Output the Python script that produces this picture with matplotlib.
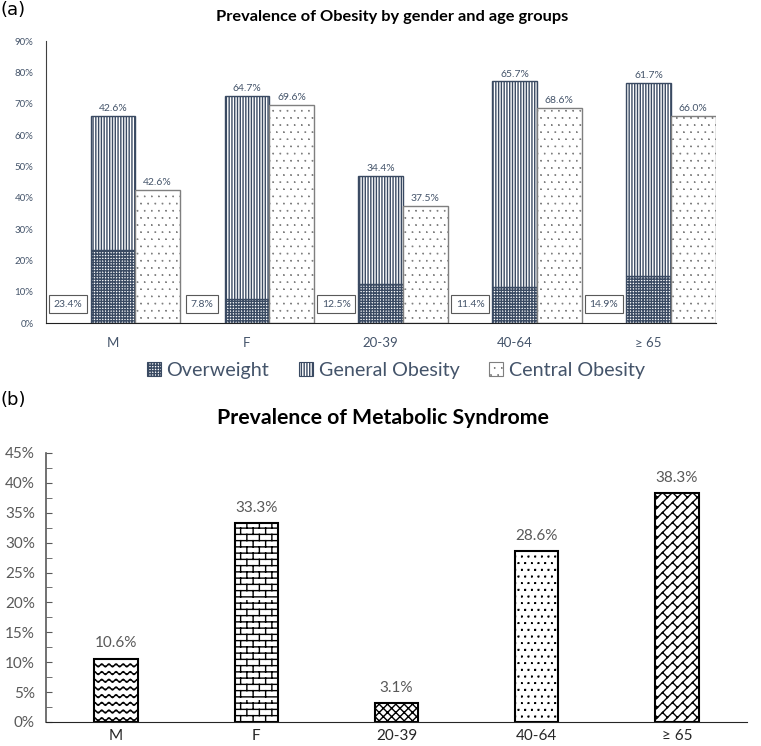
import warnings
import numpy as np
import matplotlib
matplotlib.use("Agg")
import matplotlib.pyplot as plt
import matplotlib.hatch as mhatch
from matplotlib.path import Path
from matplotlib.patches import Patch

warnings.filterwarnings("ignore")

# ---- data ----
groups = ["M", "F", "20-39", "40-64", "\u2265 65"]
overweight = [23.4, 7.8, 12.5, 11.4, 14.9]
general_obesity = [42.6, 64.7, 34.4, 65.7, 61.7]
central_obesity = [42.6, 69.6, 37.5, 68.6, 66.0]
metabolic = [10.6, 33.3, 3.1, 28.6, 38.3]


# ---- custom textures (wave, brick, diagonal brick, fine dots) ----
def wave_lines():
    rows, periods, amp = 13, 14, 0.015
    x = np.linspace(0, 1, periods * 8 + 1)
    out = []
    for k in range(rows):
        y = (k + 0.5) / rows + amp * np.sin(2 * np.pi * periods * x)
        out.append(np.column_stack([x, y]))
    return out


def brick_lines():
    rows, per_row = 16, 8
    out = []
    for k in range(rows):
        y = (k + 0.5) / rows
        out.append(np.array([[0, y], [1, y]]))
        for j in range(per_row + 1):
            xj = (j + 0.5 * (k % 2) + 0.25) / per_row
            out.append(np.array([[xj, y], [xj, y + 1 / rows]]))
    return out


def diag_brick_lines():
    n, p = 10, 5
    out = []

    def xy(u, v):
        return [(u + v) / 2, (v - u) / 2]

    for k in range(-n - 1, n + 1):
        u0 = (k + 0.5) / n
        u1 = (k + 1.5) / n
        out.append(np.array([xy(u0, -0.2), xy(u0, 2.2)]))
        for j in range(-1, 2 * p + 2):
            v = (j + 0.5 * (k % 2)) / p
            out.append(np.array([xy(u0, v), xy(u1, v)]))
    return out


def dot_squares(n, s):
    out = []
    for k in range(n):
        for j in range(n):
            xd = (j + 0.25 + 0.5 * (k % 2)) / n
            yd = (k + 0.5) / n
            out.append(np.array([[xd, yd], [xd + s, yd], [xd + s, yd + s],
                                 [xd, yd + s], [xd, yd]]))
    return out


class TextureHatch(mhatch.HatchPatternBase):
    makers = {"w": wave_lines, "b": brick_lines, "d": diag_brick_lines,
              "p": lambda: dot_squares(14, 0.001),
              "q": lambda: dot_squares(15, 0.005)}

    def __init__(self, hatch, density):
        self.lines = []
        for ch, fn in self.makers.items():
            if ch in hatch:
                self.lines += fn()
        self.num_vertices = sum(len(l) for l in self.lines)

    def set_vertices_and_codes(self, vertices, codes):
        i = 0
        for l in self.lines:
            n = len(l)
            vertices[i:i + n] = l
            codes[i] = Path.MOVETO
            codes[i + 1:i + n] = Path.LINETO
            i += n


mhatch._hatch_types.append(TextureHatch)

plt.rcParams["font.family"] = ["Lato", "DejaVu Sans"]
plt.rcParams["hatch.linewidth"] = 1.0

slate = "#44546A"
navy = "#3A4A62"
grey = "#595959"

fig = plt.figure(figsize=(7.61, 7.46), dpi=100)

# ================= (a) =================
ax1 = fig.add_axes([0.0604, 0.567, 0.880, 0.378])
x = np.arange(len(groups))
w = 1 / 3
ow_hatch, go_hatch, co_hatch = "++++++", "||||||", "p"

ax1.bar(x, overweight, w, color="white", edgecolor=navy, hatch=ow_hatch, lw=1)
ax1.bar(x, general_obesity, w, bottom=overweight, color="white",
        edgecolor=navy, hatch=go_hatch, lw=1)
ax1.bar(x + w, central_obesity, w, color="white", edgecolor="#7F7F7F",
        hatch=co_hatch, lw=1)

totals = np.array(overweight) + np.array(general_obesity)
for i in range(len(groups)):
    ax1.annotate(f"{general_obesity[i]:.1f}%", (x[i], totals[i]),
                 xytext=(0, 2), textcoords="offset points", ha="center",
                 va="bottom", fontsize=7.5, color=slate)
    ax1.annotate(f"{central_obesity[i]:.1f}%", (x[i] + w, central_obesity[i]),
                 xytext=(0, 2), textcoords="offset points", ha="center",
                 va="bottom", fontsize=7.5, color=slate)
    ax1.text(x[i] - w, 6, f"{overweight[i]:.1f}%", ha="center", va="center",
             fontsize=7.5, color=slate,
             bbox=dict(boxstyle="square,pad=0.45", fc="white", ec="#595959", lw=0.8))

ax1.set_xlim(-0.5, len(groups) - 0.5)
ax1.set_ylim(0, 90)
ax1.set_yticks(np.arange(0, 91, 10))
ax1.set_yticklabels([f"{v}%" for v in range(0, 91, 10)])
ax1.set_xticks(x)
ax1.set_xticklabels(groups)
ax1.tick_params(axis="y", length=0, labelsize=7, labelcolor=slate, pad=9)
ax1.tick_params(axis="x", length=0, labelsize=9.5, labelcolor=slate, pad=10)
for s in ["top", "right"]:
    ax1.spines[s].set_visible(False)
ax1.spines["left"].set_color("#404040")
ax1.spines["bottom"].set_color("#202020")

handles = [Patch(fc="white", ec=navy, hatch=ow_hatch, lw=0.8, label="Overweight"),
           Patch(fc="white", ec=navy, hatch=go_hatch, lw=0.8, label="General Obesity"),
           Patch(fc="white", ec="#7F7F7F", hatch=co_hatch, lw=0.8, label="Central Obesity")]
fig.legend(handles=handles, loc="center", bbox_to_anchor=(0.52, 0.504), ncol=3,
           frameon=False, fontsize=14.2, labelcolor=slate, handlelength=0.7,
           handleheight=0.7, handletextpad=0.3, columnspacing=1.5)

fig.text(0.515, 0.977, "Prevalence of Obesity by gender and age groups",
         ha="center", va="center", fontsize=11.8, fontweight="bold")
fig.text(0.0, 0.987, "(a)", ha="left", va="center", fontsize=13,
         family="DejaVu Sans")

# ================= (b) =================
ax2 = fig.add_axes([0.0604, 0.0322, 0.9212, 0.3606])
mets_hatch = ["w", "b", "xxxx", "q", "d"]
for i in range(len(groups)):
    ax2.bar(x[i], metabolic[i], 0.31, color="white", edgecolor="black",
            hatch=mets_hatch[i], lw=1.5)
    ax2.annotate(f"{metabolic[i]:.1f}%", (x[i], metabolic[i]), xytext=(0, 6),
                 textcoords="offset points", ha="center", va="bottom",
                 fontsize=11, color=grey)

ax2.set_xlim(-0.5, len(groups) - 0.5)
ax2.set_ylim(0, 45)
ax2.set_yticks(np.arange(0, 46, 5))
ax2.set_yticklabels([f"{v}%" for v in range(0, 46, 5)])
ax2.set_yticks(np.arange(2.5, 45, 5), minor=True)
ax2.set_xticks(x)
ax2.set_xticklabels(groups)
ax2.tick_params(axis="y", which="both", direction="in", length=4,
                color=grey, labelsize=11, labelcolor=grey, pad=8)
ax2.tick_params(axis="x", length=0, labelsize=11, labelcolor="#262626", pad=5)
for s in ["top", "right"]:
    ax2.spines[s].set_visible(False)
ax2.spines["left"].set_color(grey)
ax2.spines["left"].set_linewidth(1.2)
ax2.spines["bottom"].set_color("#262626")

fig.text(0.503, 0.4397, "Prevalence of Metabolic Syndrome",
         ha="center", va="center", fontsize=15.3, fontweight="bold")
fig.text(0.0, 0.464, "(b)", ha="left", va="center", fontsize=13,
         family="DejaVu Sans")

fig.savefig("out.png", dpi=100)
